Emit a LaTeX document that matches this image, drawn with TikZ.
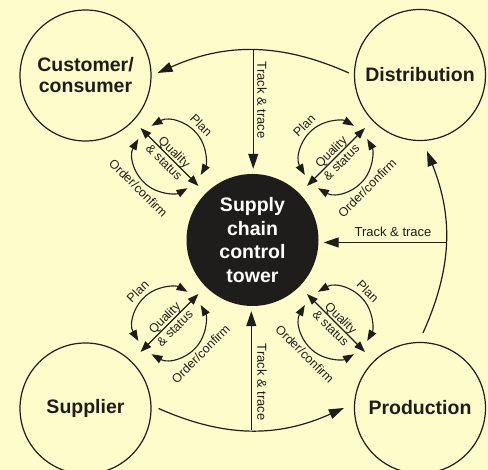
\documentclass[tikz,border=0pt]{standalone}
\usepackage{fontspec}
\setmainfont{Liberation Sans}
\usetikzlibrary{arrows.meta}
\definecolor{bg}{HTML}{FFFCCC}
\definecolor{ink}{HTML}{1F1D1C}
\newcommand\ctgroup[5]{%
  \coordinate (#1) at (#2);
  \coordinate (#1a) at ([shift={(#4+90:41)}]#1);
  \coordinate (#1b) at ([shift={(#4-90:41)}]#1);
  \draw[loopar] ([shift={(#4+75:36)}]#1) arc[start angle=#4+75, end angle=#4-75, radius=36];
  \draw[loopar] ([shift={(#5-75:36)}]#1) arc[start angle=#5-75, end angle=#5+75, radius=36];
  \draw[loopar] (#1a) -- (#1b);
  \node[lbl, rotate=#3] (#1q) at (#1) {Quality\\\& status};
  \node[lbl, rotate=#3] (#1p) at ([shift={(#4:45)}]#1) {Plan};
  \node[lbl, rotate=#3] (#1o) at ([shift={(#5:44)}]#1) {Order/confirm};
}
\begin{document}
\begin{tikzpicture}[x=1pt,y=1pt,
  big/.style={circle, draw=ink, line width=1.2pt, minimum size=131pt, inner sep=0pt,
    font=\fontsize{19.5}{21}\selectfont\bfseries, text=ink, align=center},
  hub/.style={circle, fill=ink, minimum size=132pt, inner sep=0pt, text=white,
    font=\fontsize{19.5}{23.5}\selectfont\bfseries, align=center},
  flow/.style={draw=ink, line width=1.2pt, -{Triangle[length=15pt,width=10pt]}},
  loopar/.style={draw=ink, line width=1.1pt,
    {Triangle[length=11pt,width=8pt]}-{Triangle[length=11pt,width=8pt]}},
  lbl/.style={font=\fontsize{12.5}{14.5}\selectfont, text=ink, inner sep=0pt, align=center},
]
\fill[bg] (0,0) rectangle (488,470);
\useasboundingbox (0,0) rectangle (488,470);

\node[big] (cust) at (85.5,394.5) {Customer/\\consumer};
\node[big] (dist) at (420,395) {Distribution};
\node[big] (supp) at (85.5,61.5) {Supplier};
\node[big] (prod) at (420,62) {Production};
\node[hub] (tower) at (252.5,230) {Supply\\chain\\control\\tower};

% top arc distribution -> customer
\draw[flow] ([shift={(-5,2)}]dist.west) to[bend right=24]
  node[coordinate,pos=0.5] (tm) {} ([shift={(6,2.5)}]cust.east);
% bottom arc supplier -> production
\draw[flow] ([shift={(7,0)}]supp.east) to[bend right=24]
  node[coordinate,pos=0.5] (bm) {} ([shift={(-10,0)}]prod.west);
% right arc production -> distribution
\draw[flow] ([shift={(3,9)}]prod.north) to[bend right=23]
  node[coordinate,pos=0.5] (rm) {} ([shift={(7,-10)}]dist.south);

% track & trace
\draw[flow, shorten >=5pt] (tm) -- (tm |- tower.north);
\draw[flow, shorten >=5pt] (bm) -- (bm |- tower.south);
\draw[flow, shorten >=5pt] (rm) -- (tower.east |- rm);
\node[lbl, rotate=-90, font=\fontsize{13}{15}\selectfont] (t1) at (262,370) {Track \& trace};
\node[lbl, rotate=-90, font=\fontsize{13}{15}\selectfont] (t2) at (262,88) {Track \& trace};
\node[lbl, font=\fontsize{13}{15}\selectfont] (t3) at (393,238) {Track \& trace};

\ctgroup{gtl}{169.5,313}{-45}{45}{225}
\ctgroup{gtr}{336,313}{45}{135}{315}
\ctgroup{gbl}{169.5,147}{45}{135}{315}
\ctgroup{gbr}{336,147}{-45}{45}{225}
\end{tikzpicture}
\end{document}
